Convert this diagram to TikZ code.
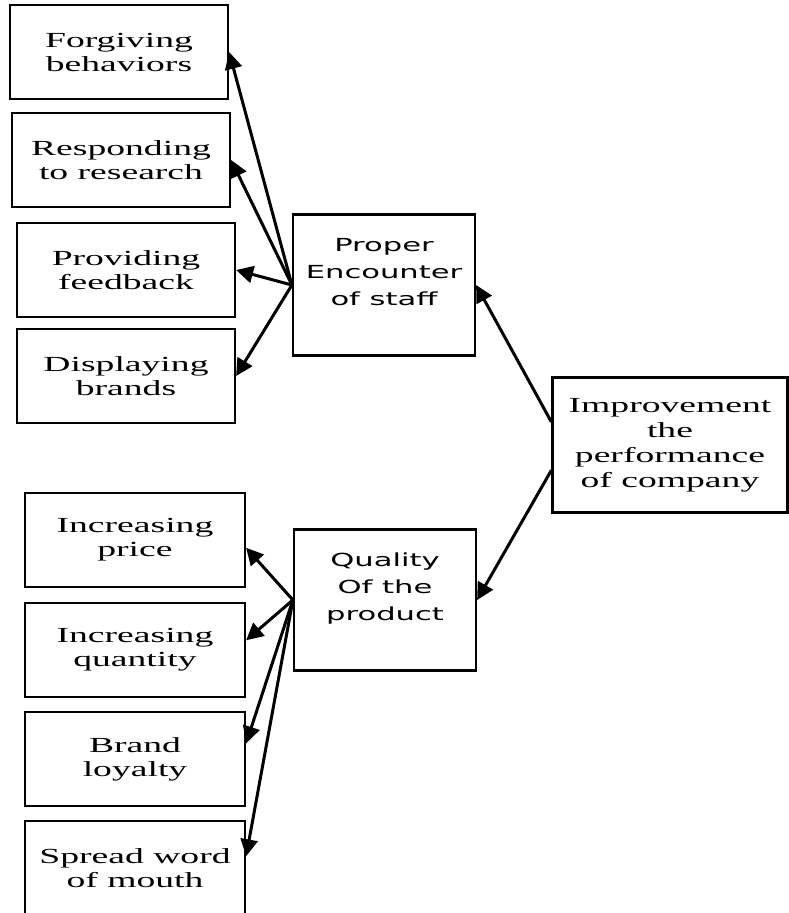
\documentclass[tikz,border=0pt]{standalone}
\usepackage{fontspec}
\usetikzlibrary{arrows.meta}
\newfontfamily\boxserif{Liberation Serif}[FakeStretch=1.75]
\newfontfamily\boxsans{DejaVu Sans}[FakeStretch=1.7]
\begin{document}
\begin{tikzpicture}[x=1pt,y=-1pt,
  leftbox/.style={draw=black, line width=2.2pt, minimum width=218pt, minimum height=94pt,
    inner sep=0pt, align=center, font=\boxserif\fontsize{21.5}{24}\selectfont},
  midbox/.style={draw=black, line width=2.2pt, minimum width=182pt, minimum height=141pt,
    inner sep=0pt, align=center, font=\boxsans\fontsize{18}{27}\selectfont},
  endbox/.style={draw=black, line width=2.2pt, minimum width=235pt, minimum height=135pt,
    inner sep=0pt, align=center, font=\boxserif\fontsize{21.5}{25}\selectfont},
  arr/.style={line width=3pt, -{Triangle[length=17pt,width=17pt]}}]
\useasboundingbox (0,0) rectangle (788,913);
% staff side
\node [leftbox] (forgive) at (119,52) {Forgiving\\behaviors};
\node [leftbox] (respond) at (121,160) {Responding\\to research};
\node [leftbox] (feedback) at (126,270) {Providing\\feedback};
\node [leftbox] (display) at (126,376) {Displaying\\brands};
\node [midbox] (staff) at (384,285) {Proper\\Encounter\\of staff\\\mbox{}};
% product side
\node [leftbox, minimum width=220pt] (price) at (135,540) {Increasing\\price};
\node [leftbox, minimum width=220pt] (quantity) at (135,650) {Increasing\\quantity};
\node [leftbox, minimum width=220pt] (loyalty) at (135,759) {Brand\\loyalty};
\node [leftbox, minimum width=220pt] (spread) at (135,868) {Spread word\\of mouth};
\node [midbox] (quality) at (385,600) {Quality\\Of the\\product\\\mbox{}};
% goal
\node [endbox] (improve) at (670,445) {Improvement\\the\\performance\\of company};

\draw [arr] (staff.west) -- (forgive.east);
\draw [arr] (staff.west) -- (respond.east);
\draw [arr] (staff.west) -- (feedback.east);
\draw [arr] (staff.west) -- (display.east);
\draw [arr] (quality.west) -- (price.356);
\draw [arr] (quality.west) -- (quantity.5);
\draw [arr] (quality.west) -- (loyalty.8);
\draw [arr] (quality.west) -- (spread.6);
\draw [arr] (improve.169) -- (staff.east);
\draw [arr] (improve.192) -- (quality.east);
\end{tikzpicture}
\end{document}
